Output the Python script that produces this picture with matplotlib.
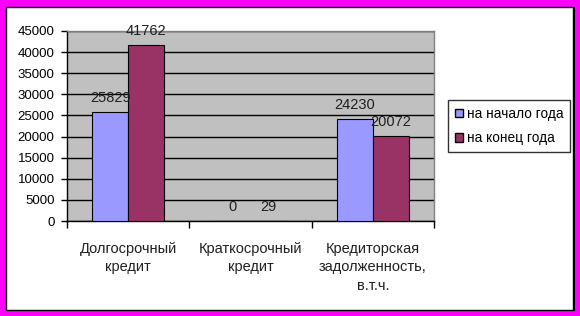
import matplotlib
matplotlib.use("Agg")
import matplotlib.pyplot as plt
from matplotlib.patches import Rectangle
import numpy as np

categories = ["Долгосрочный\nкредит", "Краткосрочный\nкредит", "Кредиторская\nзадолженность,\nв.т.ч."]
start_year = [25829, 0, 24230]
end_year = [41762, 29, 20072]
series_names = ["на начало года", "на конец года"]
yticks = [0, 5000, 10000, 15000, 20000, 25000, 30000, 35000, 40000, 45000]

W, H = 580, 316
plt.rcParams["font.family"] = ["Liberation Sans", "DejaVu Sans"]
fig = plt.figure(figsize=(W / 100, H / 100), dpi=100)
fig.patch.set_facecolor("#FF00FF")

def fx(px):
    return px / W

def fy(py):
    return 1 - py / H

# shadow + white panel
fig.patches.append(Rectangle((fx(7), fy(311)), fx(568), 304 / H, transform=fig.transFigure,
                             facecolor="black", edgecolor="none", zorder=-2))
fig.patches.append(Rectangle((fx(6), fy(310)), fx(567), 303 / H, transform=fig.transFigure,
                             facecolor="white", edgecolor="black", linewidth=1, zorder=-1))

ax = fig.add_axes([fx(67), fy(221), fx(434 - 67), (221 - 31) / H])
ax.set_facecolor("#C0C0C0")
x = np.arange(len(categories))
w = 0.295
b1 = ax.bar(x - w / 2, start_year, w, color="#9999FF", edgecolor="black", linewidth=0.8, zorder=3)
b2 = ax.bar(x + w / 2, end_year, w, color="#993366", edgecolor="black", linewidth=0.8, zorder=3)

ax.set_xlim(-0.5, len(categories) - 0.5)
ax.set_ylim(0, 45000)
ax.set_yticks(yticks)
ax.set_yticklabels([str(v) for v in yticks], fontsize=9.5)
ax.yaxis.grid(True, color="black", linewidth=1, zorder=1)
ax.set_axisbelow(True)

ax.set_xticks(x)
ax.set_xticklabels(categories, fontsize=10.5, linespacing=1.4, color="#202020")
ax.tick_params(axis="x", length=0, pad=15)
ax.set_xticks(np.arange(len(categories) + 1) - 0.5, minor=True)
ax.tick_params(axis="x", which="minor", length=5, width=1, color="black")
ax.tick_params(axis="y", length=4, width=1, color="black", pad=5)

for s in ["top", "right"]:
    ax.spines[s].set_color("#808080")
    ax.spines[s].set_linewidth(1)
for s in ["left", "bottom"]:
    ax.spines[s].set_color("black")
    ax.spines[s].set_linewidth(1)

for bars, vals in ((b1, start_year), (b2, end_year)):
    for rect, v in zip(bars, vals):
        ax.annotate(str(v), (rect.get_x() + rect.get_width() / 2, v), xytext=(0, 5),
                    textcoords="offset points", ha="center", va="bottom", fontsize=10.5,
                    color="#202020", zorder=5, annotation_clip=False)

handles = [Rectangle((0, 0), 1, 1, facecolor="#9999FF", edgecolor="black", linewidth=1),
           Rectangle((0, 0), 1, 1, facecolor="#993366", edgecolor="black", linewidth=1)]
leg = fig.legend(handles, series_names, loc="upper left",
                 bbox_to_anchor=(fx(448), fy(100)), bbox_transform=fig.transFigure,
                 fontsize=9.8, frameon=True, fancybox=False, edgecolor="black",
                 handlelength=0.6, handleheight=0.6, handletextpad=0.3,
                 labelspacing=0.75, borderpad=0.5, borderaxespad=0)
leg.get_frame().set_linewidth(1)

fig.savefig("out.png", dpi=100, facecolor=fig.get_facecolor())
